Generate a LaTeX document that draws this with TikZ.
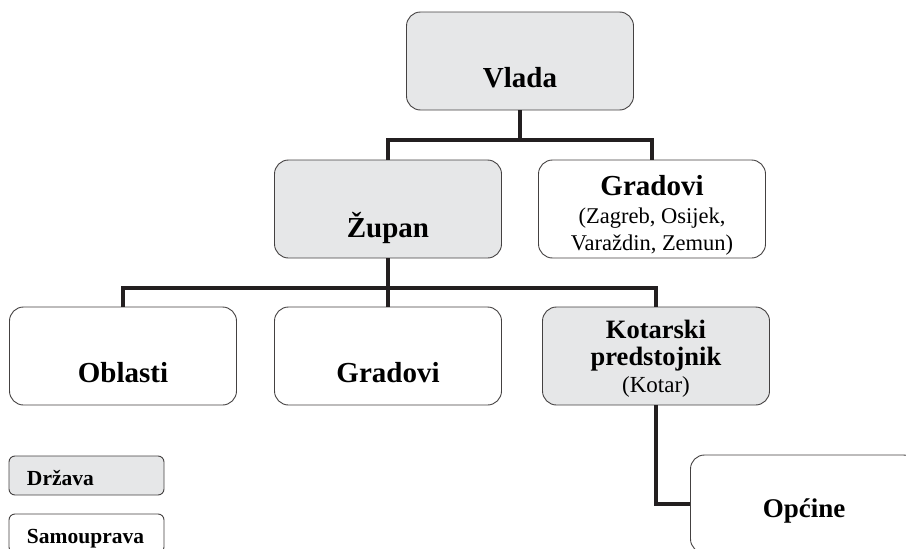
\documentclass[tikz,border=0pt]{standalone}
\usepackage{fontspec}
\setmainfont{Liberation Serif}
\definecolor{statefill}{HTML}{E6E7E8}
\definecolor{inkline}{HTML}{231F20}

\begin{document}
\begin{tikzpicture}[x=1pt,y=-1pt]
		\tikzstyle {unit} = [draw=inkline!85, line width=0.9pt, rounded corners=14pt, minimum width=227pt, minimum height=98pt, inner sep=0pt]
		\tikzstyle {state} = [unit, fill=statefill]
		\tikzstyle {selfgov} = [unit, fill=white]
		\tikzstyle {link} = [line width=4pt, draw=inkline]
		\tikzstyle {big} = [font=\fontsize{29}{34}\selectfont\bfseries, anchor=base]
		\tikzstyle {small} = [font=\fontsize{22.5}{27}\selectfont, anchor=base]
		\tikzstyle {keybox} = [minimum width=155pt, minimum height=39pt, rounded corners=6pt, text width=119pt, inner xsep=18pt, align=left, text height=19pt, text depth=0pt, font=\fontsize{21.5}{24}\selectfont\bfseries]

		\useasboundingbox (0,0) rectangle (906,549);

		% boxes
		\node[state] (vlada) at (520,61) {};
		\node[state] (zupan) at (388,209) {};
		\node[selfgov] (gradTop) at (652,209) {};
		\node[selfgov] (oblasti) at (123,356) {};
		\node[selfgov] (gradBot) at (388,356) {};
		\node[state] (kotar) at (656,356) {};
		\node[selfgov] (opcine) at (804,504) {};

		% texts
		\node[big] (vladaText) at (520,87) {Vlada};
		\node[big] (zupanText) at (388,237) {Župan};
		\node[big] (gradTopText) at (652,195) {Gradovi};
		\node[small] (gradTopSub) at (652,223) {(Zagreb, Osijek,};
		\node[small] (gradTopSub2) at (652,250) {Varaždin, Zemun)};
		\node[big] (oblastiText) at (123,382) {Oblasti};
		\node[big] (gradBotText) at (388,382) {Gradovi};
		\node[big, font=\fontsize{26.5}{30}\selectfont\bfseries] (kotarText) at (656,338) {Kotarski};
		\node[big, font=\fontsize{26.5}{30}\selectfont\bfseries] (kotarSub) at (656,365) {predstojnik};
		\node[small, font=\fontsize{23}{27}\selectfont] (kotarName) at (656,392) {(Kotar)};
		\node[big, font=\fontsize{27}{32}\selectfont\bfseries] (opcineText) at (804,517) {Općine};

		% connectors
		\draw[link] (vlada.south) -- ++(0,30) coordinate (busTop);
		\draw[link] (zupan.north) -- (zupan.north |- busTop) -| (gradTop.north);
		\draw[link] (zupan.south) -- (gradBot.north);
		\draw[link] (oblasti.north) -- ++(0,-19) -| (kotar.north);
		\draw[link] (kotar.south) |- (opcine.west);

		% legend
		\node[unit, keybox, fill=statefill] (drzava) at (86.5,475.5) {Država};
		\node[unit, keybox, fill=white] (samouprava) at (86.5,533.5) {Samouprava};
\end{tikzpicture}
\end{document}
